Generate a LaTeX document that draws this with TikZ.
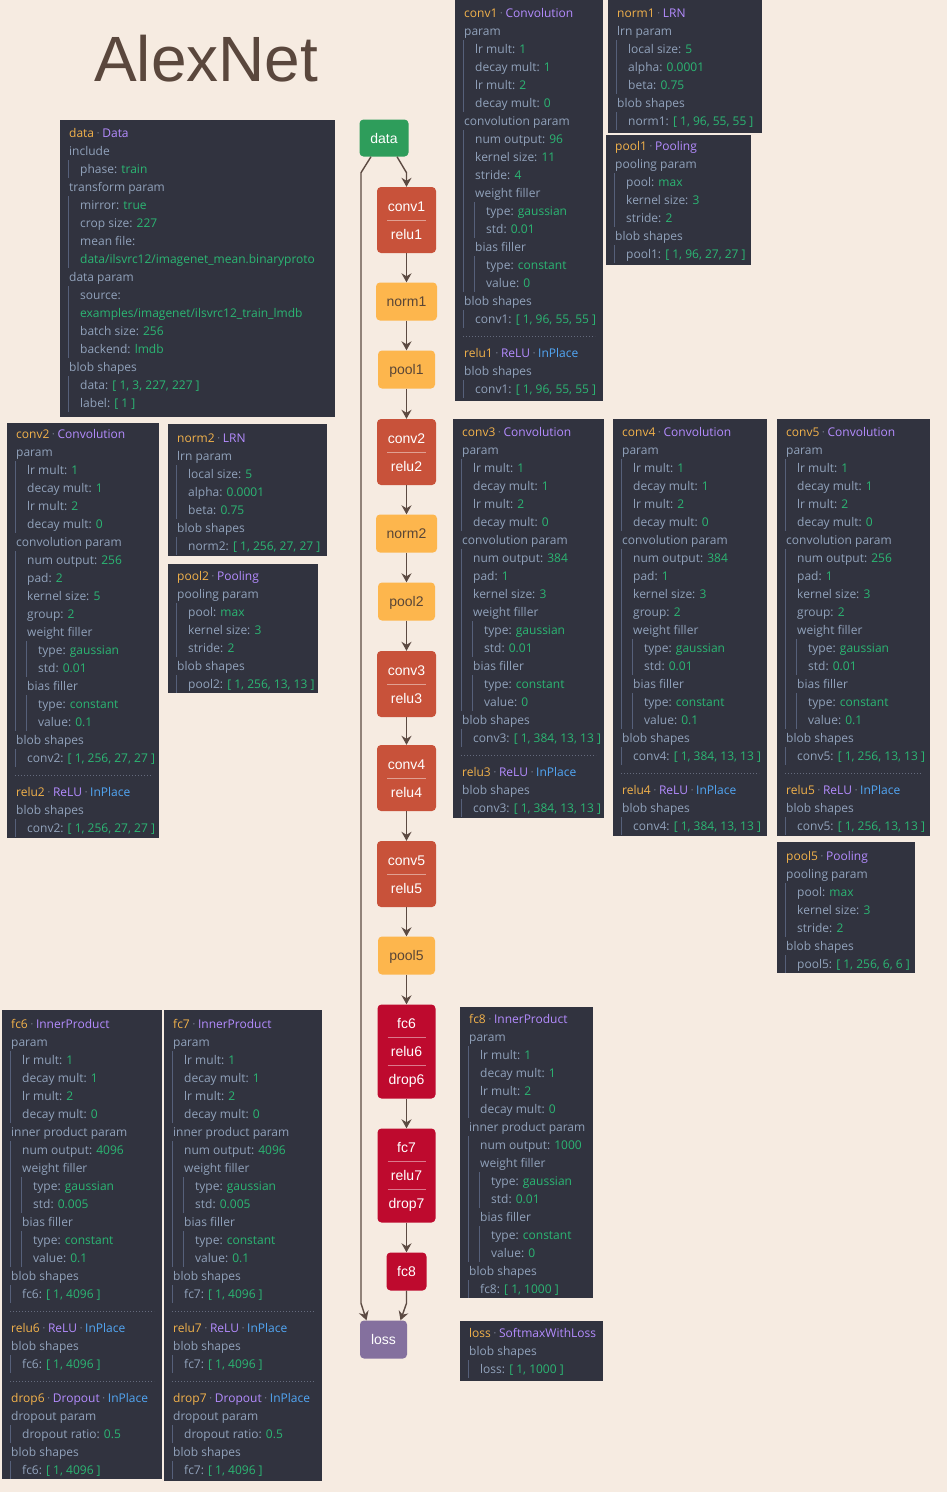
\documentclass[tikz,border=0pt]{standalone}
\usepackage{fontspec}
\setmainfont{Open Sans}
\newfontfamily\nodefont{Liberation Sans}
\usetikzlibrary{arrows.meta}

\definecolor{bgc}{HTML}{F6EBE1}
\definecolor{panelbg}{HTML}{31333F}
\definecolor{ckey}{HTML}{91A2BB}
\definecolor{cval}{HTML}{2BB673}
\definecolor{cname}{HTML}{F2B24B}
\definecolor{ctype}{HTML}{B48CFF}
\definecolor{cinp}{HTML}{52A7F5}
\definecolor{cdot}{HTML}{6E7384}
\definecolor{cbar}{HTML}{56607A}
\definecolor{csep}{HTML}{646A7C}
\definecolor{ctitle}{HTML}{5A473D}
\definecolor{cedge}{HTML}{5C4A42}
\definecolor{cdata}{HTML}{2E9D5B}
\definecolor{cconv}{HTML}{C8523A}
\definecolor{cnorm}{HTML}{FDB64D}
\definecolor{cfc}{HTML}{BE0A2E}
\definecolor{closs}{HTML}{84709E}
\definecolor{cdark}{HTML}{5A4636}

% running state of the info panels
\newcount\px \newcount\pr \newcount\rowy \newcount\rowno

\newcommand\pbox[5]{%
  \fill[panelbg] (#1,#2) rectangle (#3,#4);
  \global\px=#1\relax \global\pr=#3\relax \global\rowy=#5\relax}
\newcommand\prow[2]{%
  \global\advance\rowno by 1\relax
  \node[rowtext] (t\the\rowno) at (\the\px+9+11*#1, \the\rowy+4.5) {#2};
  \ifnum#1>0 \draw[barline] (\the\px+8.5, \the\rowy-9) -- (\the\px+8.5, \the\rowy+9);\fi
  \ifnum#1>1 \draw[barline] (\the\px+19.5, \the\rowy-9) -- (\the\px+19.5, \the\rowy+9);\fi
  \global\advance\rowy by 18\relax}
\newcommand\psep{%
  \draw[sepline] (\the\px+8, \the\rowy-1) -- (\the\pr-8, \the\rowy-1);
  \global\advance\rowy by 16\relax}
\newcommand\dotsep{\hspace{2.5pt}\textcolor{cdot}{·}\hspace{2.5pt}}
\newcommand\ptitle[2]{\prow{0}{\textcolor{cname}{#1}\dotsep\textcolor{ctype}{#2}}}
\newcommand\ptitlei[2]{\prow{0}{\textcolor{cname}{#1}\dotsep\textcolor{ctype}{#2}\dotsep\textcolor{cinp}{InPlace}}}
\newcommand\pk[2]{\prow{#1}{#2}}
\newcommand\pv[3]{\prow{#1}{#2: \textcolor{cval}{#3}}}
\newcommand\pparams{\pk{0}{param}\pv{1}{lr mult}{1}\pv{1}{decay mult}{1}\pv{1}{lr mult}{2}\pv{1}{decay mult}{0}}
\newcommand\pfillers[2]{\pk{1}{weight filler}\pv{2}{type}{gaussian}\pv{2}{std}{#1}%
  \pk{1}{bias filler}\pv{2}{type}{constant}\pv{2}{value}{#2}}
\newcommand\ppool[2]{\ptitle{#1}{Pooling}\pk{0}{pooling param}\pv{1}{pool}{max}%
  \pv{1}{kernel size}{3}\pv{1}{stride}{2}\pk{0}{blob shapes}\pv{1}{#1}{#2}}
\newcommand\plrn[2]{\ptitle{#1}{LRN}\pk{0}{lrn param}\pv{1}{local size}{5}%
  \pv{1}{alpha}{0.0001}\pv{1}{beta}{0.75}\pk{0}{blob shapes}\pv{1}{#1}{#2}}

\begin{document}
\begin{tikzpicture}[x=1pt,y=-1pt,
  rowtext/.style={anchor=base west, inner sep=0pt, text=ckey, font=\fontsize{12}{14}\selectfont},
  barline/.style={draw=cbar, line width=0.9pt},
  sepline/.style={draw=csep, line width=0.8pt, dash pattern=on 1pt off 2pt},
  layer/.style={rounded corners=4pt, inner sep=0pt, text height=10pt, text depth=0pt,
    font=\nodefont\fontsize{14}{16}\selectfont, text=white},
  lab/.style={anchor=base, inner sep=0pt, font=\nodefont\fontsize{14}{16}\selectfont, text=white},
  partsep/.style={draw=white, draw opacity=0.45, line width=0.8pt},
  edge/.style={draw=cedge, line width=1.4pt, -{Stealth[length=9pt,width=10pt,inset=3pt]}},
]
\useasboundingbox (0,0) rectangle (947,1492);
\fill[bgc] (0,0) rectangle (947,1492);

\node[anchor=base west, inner sep=0pt, text=ctitle, font=\nodefont\fontsize{64}{70}\selectfont] (title) at (94,81) {AlexNet};

% ---------- layer graph ----------
\node[layer, fill=cdata, minimum width=49pt, minimum height=37pt] (data) at (384,138) {data};

\node[layer, fill=cconv, minimum width=59pt, minimum height=66pt] (conv1) at (406.5,220) {};
\node[layer, fill=cnorm, minimum width=61pt, minimum height=38pt, text=cdark] (norm1) at (406.5,301.5) {norm1};
\node[layer, fill=cnorm, minimum width=57pt, minimum height=38pt, text=cdark] (pool1) at (406.5,369.5) {pool1};
\node[layer, fill=cconv, minimum width=59pt, minimum height=66pt] (conv2) at (406.5,452) {};
\node[layer, fill=cnorm, minimum width=61pt, minimum height=38pt, text=cdark] (norm2) at (406.5,533.5) {norm2};
\node[layer, fill=cnorm, minimum width=57pt, minimum height=38pt, text=cdark] (pool2) at (406.5,601.5) {pool2};
\node[layer, fill=cconv, minimum width=59pt, minimum height=66pt] (conv3) at (406.5,684) {};
\node[layer, fill=cconv, minimum width=59pt, minimum height=66pt] (conv4) at (406.5,778) {};
\node[layer, fill=cconv, minimum width=59pt, minimum height=66pt] (conv5) at (406.5,874) {};
\node[layer, fill=cnorm, minimum width=57pt, minimum height=38pt, text=cdark] (pool5) at (406.5,955.5) {pool5};
\node[layer, fill=cfc, minimum width=58pt, minimum height=94pt] (fc6) at (406.5,1051.5) {};
\node[layer, fill=cfc, minimum width=58pt, minimum height=94pt] (fc7) at (406.5,1175.5) {};
\node[layer, fill=cfc, minimum width=40pt, minimum height=38pt] (fc8) at (406.5,1271.5) {fc8};
\node[layer, fill=closs, minimum width=47pt, minimum height=38pt] (loss) at (383.5,1339.5) {loss};

% two-part layers
\foreach \n/\a/\b in {conv1/conv1/relu1, conv2/conv2/relu2, conv3/conv3/relu3, conv4/conv4/relu4, conv5/conv5/relu5}{
  \node[lab] (\n-a) at ([yshift=9pt]\n.center) {\a};
  \node[lab] (\n-b) at ([yshift=-19pt]\n.center) {\b};
  \draw[partsep] ([xshift=-19.5pt]\n.center) -- ([xshift=19.5pt]\n.center);
}
% three-part layers
\foreach \n/\a/\b/\c in {fc6/fc6/relu6/drop6, fc7/fc7/relu7/drop7}{
  \node[lab] (\n-a) at ([yshift=23pt]\n.center) {\a};
  \node[lab] (\n-b) at ([yshift=-5pt]\n.center) {\b};
  \node[lab] (\n-c) at ([yshift=-33pt]\n.center) {\c};
  \draw[partsep] ([xshift=-19pt,yshift=14pt]\n.center) -- ([xshift=19pt,yshift=14pt]\n.center);
  \draw[partsep] ([xshift=-19pt,yshift=-14pt]\n.center) -- ([xshift=19pt,yshift=-14pt]\n.center);
}

% connectors
\draw[edge] ([xshift=13pt]data.south) -- ++(9.5,16) -- (conv1.north);
\foreach \u/\v in {conv1/norm1, norm1/pool1, pool1/conv2, conv2/norm2, norm2/pool2, pool2/conv3,
  conv3/conv4, conv4/conv5, conv5/pool5, pool5/fc6, fc6/fc7, fc7/fc8}{
  \draw[edge] (\u) -- (\v);
}
\draw[edge] ([xshift=-13pt]data.south) -- ++(-10,16) -- ([xshift=-22.5pt,yshift=17pt]loss.north) -- ([xshift=-17pt]loss.north);
\draw[edge] (fc8.south) -- ([xshift=23pt,yshift=17pt]loss.north) -- ([xshift=17pt]loss.north);

% ---------- info panels ----------
% data
\pbox{60}{120}{335}{417}{133}
\ptitle{data}{Data}
\pk{0}{include}
\pv{1}{phase}{train}
\pk{0}{transform param}
\pv{1}{mirror}{true}
\pv{1}{crop size}{227}
\pk{1}{mean file:}
\prow{1}{\textcolor{cval}{data/ilsvrc12/imagenet\_mean.binaryproto}}
\pk{0}{data param}
\pk{1}{source:}
\prow{1}{\textcolor{cval}{examples/imagenet/ilsvrc12\_train\_lmdb}}
\pv{1}{batch size}{256}
\pv{1}{backend}{lmdb}
\pk{0}{blob shapes}
\pv{1}{data}{[ 1, 3, 227, 227 ]}
\pv{1}{label}{[ 1 ]}

% conv1 + relu1
\pbox{455}{0}{603}{401}{13}
\ptitle{conv1}{Convolution}
\pparams
\pk{0}{convolution param}
\pv{1}{num output}{96}
\pv{1}{kernel size}{11}
\pv{1}{stride}{4}
\pfillers{0.01}{0}
\pk{0}{blob shapes}
\pv{1}{conv1}{[ 1, 96, 55, 55 ]}
\psep
\ptitlei{relu1}{ReLU}
\pk{0}{blob shapes}
\pv{1}{conv1}{[ 1, 96, 55, 55 ]}

% norm1
\pbox{608}{0}{762}{133}{13}
\plrn{norm1}{[ 1, 96, 55, 55 ]}

% pool1
\pbox{606}{135}{751}{265}{146}
\ppool{pool1}{[ 1, 96, 27, 27 ]}

% conv2 + relu2
\pbox{7}{423}{159}{838}{434}
\ptitle{conv2}{Convolution}
\pparams
\pk{0}{convolution param}
\pv{1}{num output}{256}
\pv{1}{pad}{2}
\pv{1}{kernel size}{5}
\pv{1}{group}{2}
\pfillers{0.01}{0.1}
\pk{0}{blob shapes}
\pv{1}{conv2}{[ 1, 256, 27, 27 ]}
\psep
\ptitlei{relu2}{ReLU}
\pk{0}{blob shapes}
\pv{1}{conv2}{[ 1, 256, 27, 27 ]}

% norm2
\pbox{168}{424}{327}{556}{438}
\plrn{norm2}{[ 1, 256, 27, 27 ]}

% pool2
\pbox{168}{564}{318}{693}{576}
\ppool{pool2}{[ 1, 256, 13, 13 ]}

% conv3 + relu3
\pbox{453}{419}{604}{818}{432}
\ptitle{conv3}{Convolution}
\pparams
\pk{0}{convolution param}
\pv{1}{num output}{384}
\pv{1}{pad}{1}
\pv{1}{kernel size}{3}
\pfillers{0.01}{0}
\pk{0}{blob shapes}
\pv{1}{conv3}{[ 1, 384, 13, 13 ]}
\psep
\ptitlei{relu3}{ReLU}
\pk{0}{blob shapes}
\pv{1}{conv3}{[ 1, 384, 13, 13 ]}

% conv4 + relu4
\pbox{613}{419}{767}{836}{432}
\ptitle{conv4}{Convolution}
\pparams
\pk{0}{convolution param}
\pv{1}{num output}{384}
\pv{1}{pad}{1}
\pv{1}{kernel size}{3}
\pv{1}{group}{2}
\pfillers{0.01}{0.1}
\pk{0}{blob shapes}
\pv{1}{conv4}{[ 1, 384, 13, 13 ]}
\psep
\ptitlei{relu4}{ReLU}
\pk{0}{blob shapes}
\pv{1}{conv4}{[ 1, 384, 13, 13 ]}

% conv5 + relu5
\pbox{777}{419}{930}{836}{432}
\ptitle{conv5}{Convolution}
\pparams
\pk{0}{convolution param}
\pv{1}{num output}{256}
\pv{1}{pad}{1}
\pv{1}{kernel size}{3}
\pv{1}{group}{2}
\pfillers{0.01}{0.1}
\pk{0}{blob shapes}
\pv{1}{conv5}{[ 1, 256, 13, 13 ]}
\psep
\ptitlei{relu5}{ReLU}
\pk{0}{blob shapes}
\pv{1}{conv5}{[ 1, 256, 13, 13 ]}

% pool5
\pbox{777}{842}{915}{973}{856}
\ppool{pool5}{[ 1, 256, 6, 6 ]}

% fc6 + relu6 + drop6
\pbox{2}{1010}{162}{1479}{1024}
\ptitle{fc6}{InnerProduct}
\pparams
\pk{0}{inner product param}
\pv{1}{num output}{4096}
\pfillers{0.005}{0.1}
\pk{0}{blob shapes}
\pv{1}{fc6}{[ 1, 4096 ]}
\psep
\ptitlei{relu6}{ReLU}
\pk{0}{blob shapes}
\pv{1}{fc6}{[ 1, 4096 ]}
\psep
\ptitlei{drop6}{Dropout}
\pk{0}{dropout param}
\pv{1}{dropout ratio}{0.5}
\pk{0}{blob shapes}
\pv{1}{fc6}{[ 1, 4096 ]}

% fc7 + relu7 + drop7
\pbox{164}{1010}{322}{1481}{1024}
\ptitle{fc7}{InnerProduct}
\pparams
\pk{0}{inner product param}
\pv{1}{num output}{4096}
\pfillers{0.005}{0.1}
\pk{0}{blob shapes}
\pv{1}{fc7}{[ 1, 4096 ]}
\psep
\ptitlei{relu7}{ReLU}
\pk{0}{blob shapes}
\pv{1}{fc7}{[ 1, 4096 ]}
\psep
\ptitlei{drop7}{Dropout}
\pk{0}{dropout param}
\pv{1}{dropout ratio}{0.5}
\pk{0}{blob shapes}
\pv{1}{fc7}{[ 1, 4096 ]}

% fc8
\pbox{460}{1007}{593}{1298}{1019}
\ptitle{fc8}{InnerProduct}
\pparams
\pk{0}{inner product param}
\pv{1}{num output}{1000}
\pfillers{0.01}{0}
\pk{0}{blob shapes}
\pv{1}{fc8}{[ 1, 1000 ]}

% loss
\pbox{460}{1321}{603}{1381}{1333}
\ptitle{loss}{SoftmaxWithLoss}
\pk{0}{blob shapes}
\pv{1}{loss}{[ 1, 1000 ]}

\end{tikzpicture}
\end{document}
